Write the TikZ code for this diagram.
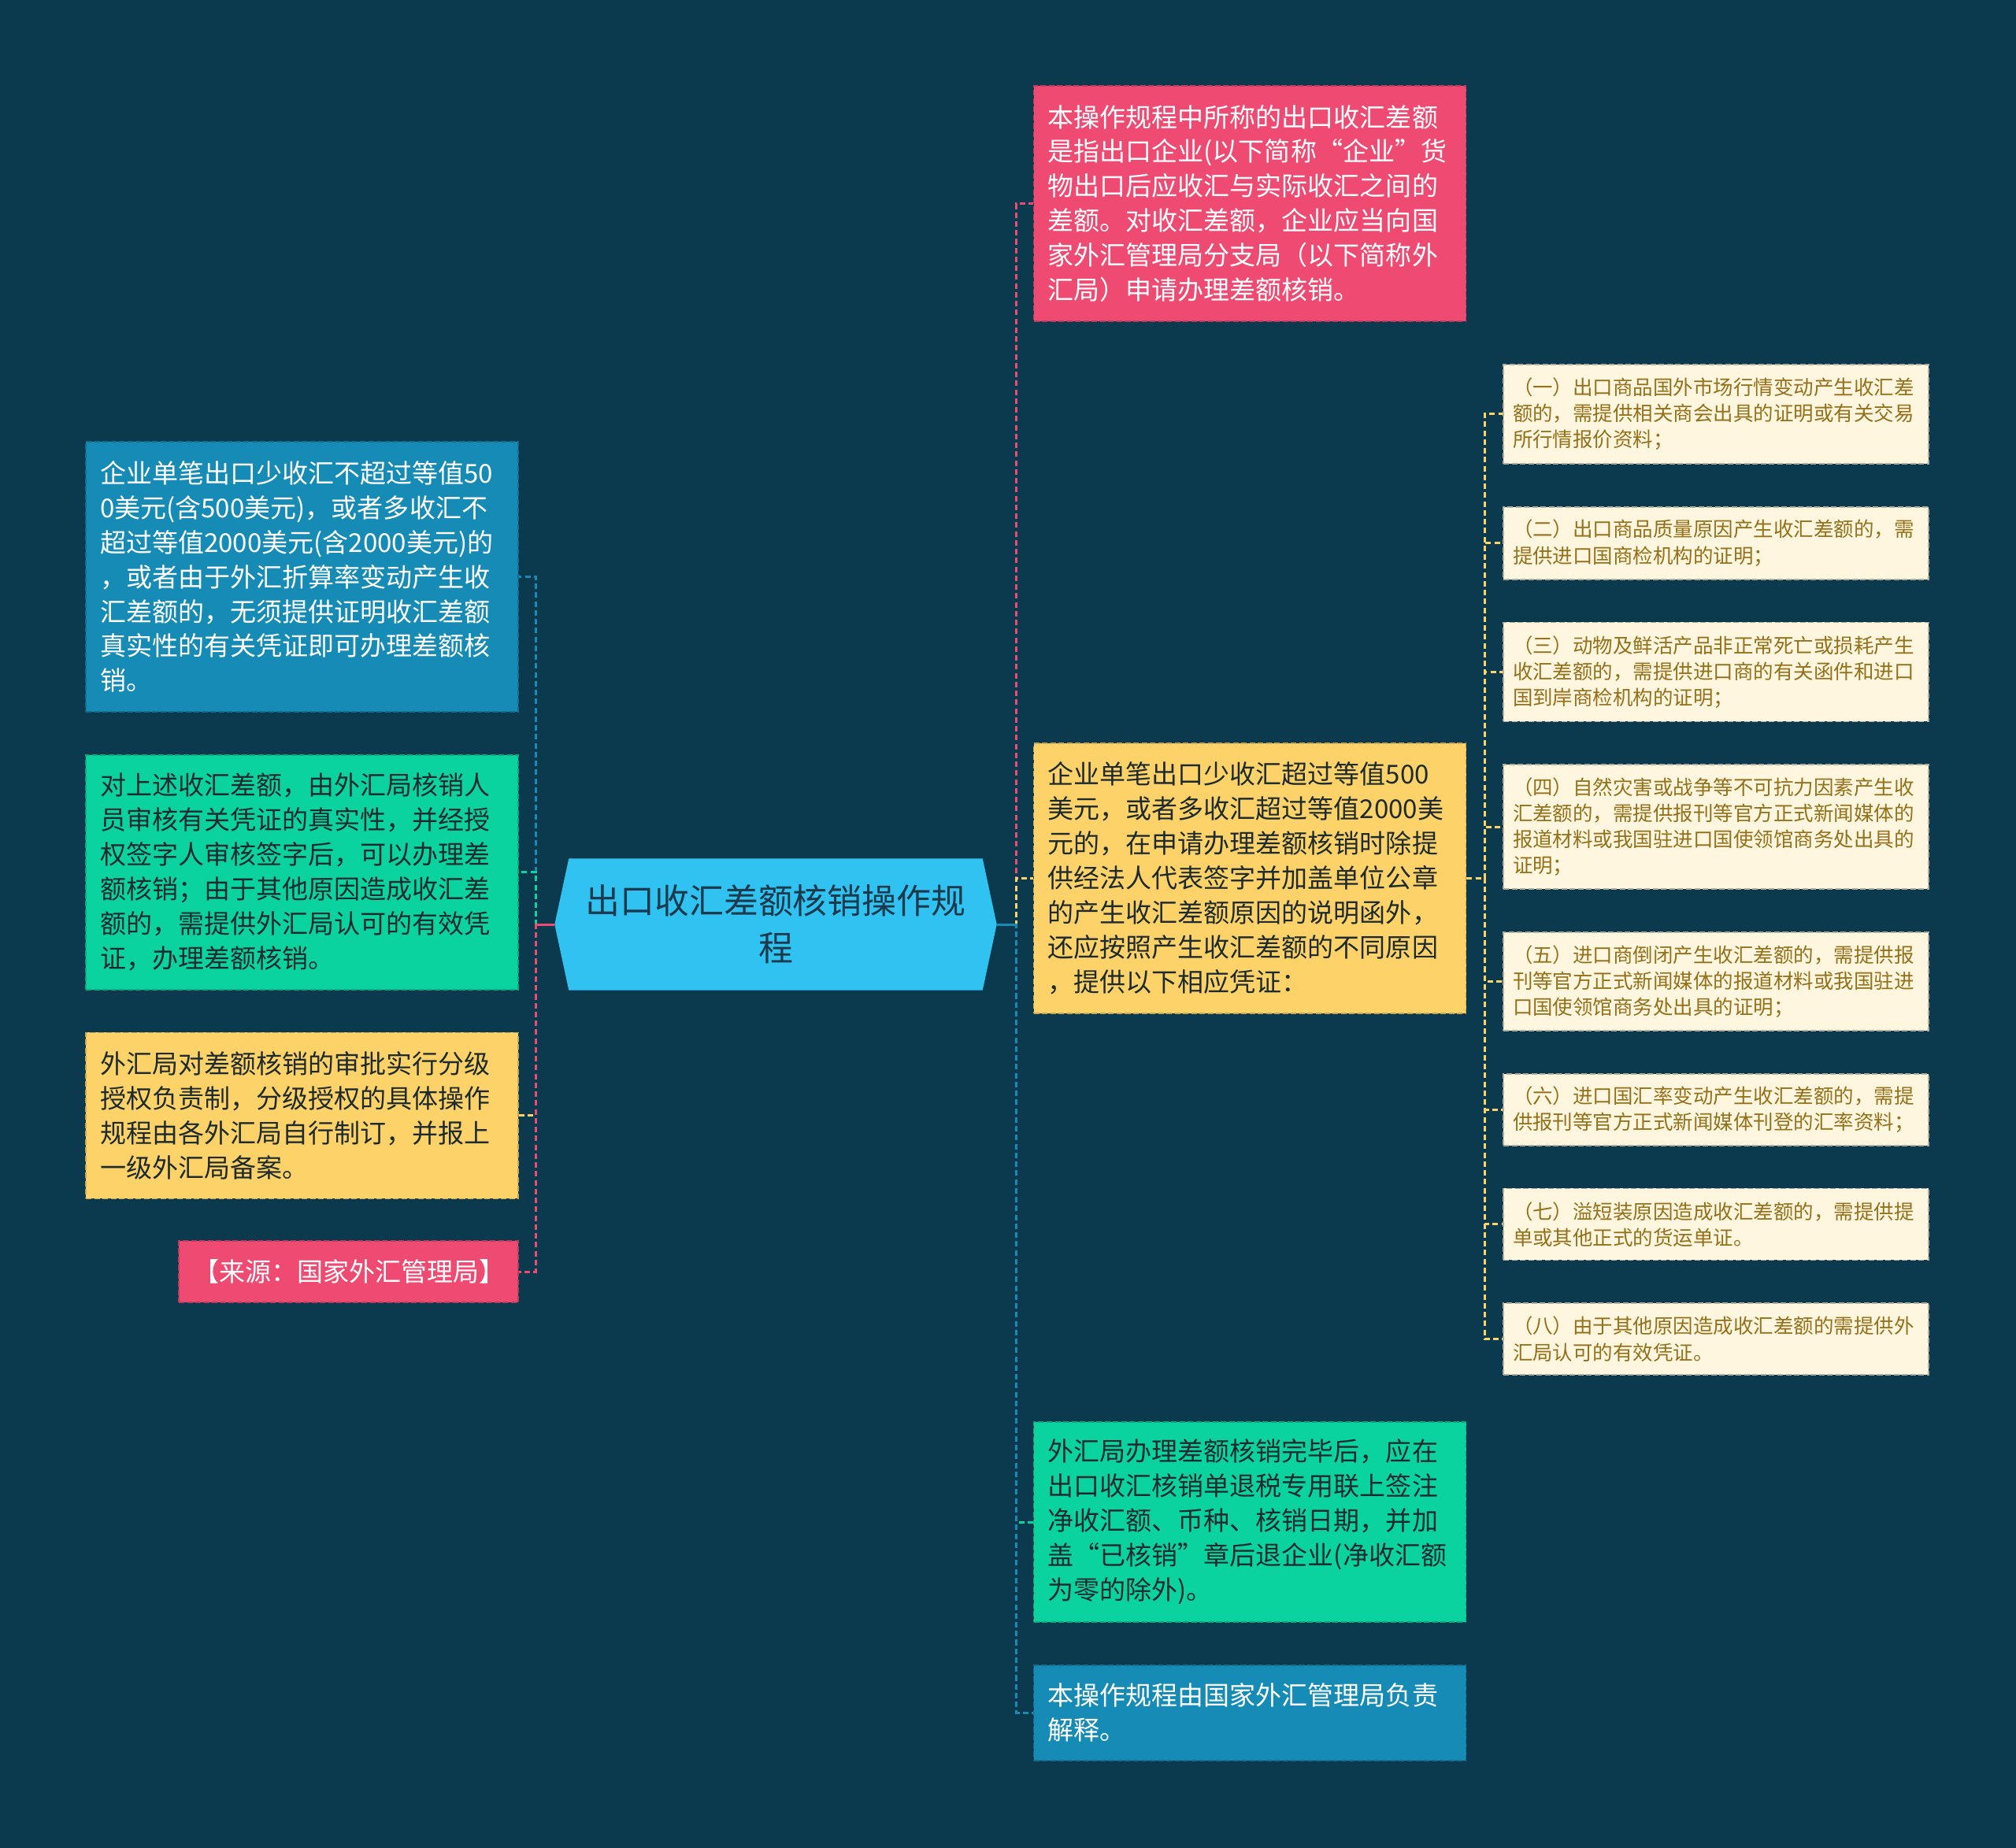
\documentclass[tikz,border=0pt]{standalone}
\usepackage{fontspec}
\setmainfont{Noto Sans CJK SC}
\usetikzlibrary{positioning, calc, backgrounds}
\definecolor{NightTeal}{HTML}{0B3A4E}
\definecolor{HubCyan}{HTML}{30C3F2}
\definecolor{HubInk}{HTML}{1C3A4B}
\definecolor{RosePink}{HTML}{EF4A72}
\definecolor{OceanBlue}{HTML}{168BB5}
\definecolor{MintGreen}{HTML}{0BD3A0}
\definecolor{SunYellow}{HTML}{FDD268}
\definecolor{CreamFill}{HTML}{FEF6DF}
\definecolor{CreamInk}{HTML}{94701A}
\definecolor{DarkInk}{HTML}{1E2B2E}
\tikzset{
  hubtext/.style={align=center, minimum width=5.6cm, minimum height=1.66cm, inner sep=0pt, text=HubInk, font=\fontsize{12.5}{17}\selectfont},
  pinkcard/.style={draw=RosePink!80!black, line width=0.5pt, dash pattern=on 2pt off 1pt, fill=RosePink, text=white, align=left, text width=5.13cm, minimum width=5.49cm, inner xsep=0.18cm, inner ysep=0pt, font=\fontsize{9.4}{12.5}\selectfont},
  bluecard/.style={draw=OceanBlue!80!black, line width=0.5pt, dash pattern=on 2pt off 1pt, fill=OceanBlue, text=white, align=left, text width=5.13cm, minimum width=5.49cm, inner xsep=0.18cm, inner ysep=0pt, font=\fontsize{9.4}{12.5}\selectfont},
  greencard/.style={draw=MintGreen!80!black, line width=0.5pt, dash pattern=on 2pt off 1pt, fill=MintGreen, text=DarkInk, align=left, text width=5.13cm, minimum width=5.49cm, inner xsep=0.18cm, inner ysep=0pt, font=\fontsize{9.4}{12.5}\selectfont},
  yellowcard/.style={draw=SunYellow!80!black, line width=0.5pt, dash pattern=on 2pt off 1pt, fill=SunYellow, text=DarkInk, align=left, text width=5.13cm, minimum width=5.49cm, inner xsep=0.18cm, inner ysep=0pt, font=\fontsize{9.4}{12.5}\selectfont},
  creamcard/.style={draw=CreamFill!70!black, line width=0.5pt, dash pattern=on 2pt off 1pt, fill=CreamFill, text=CreamInk, align=left, text width=5.16cm, minimum width=5.40cm, inner xsep=0.12cm, inner ysep=0pt, font=\fontsize{7.25}{9.45}\selectfont},
  pinklink/.style={draw=RosePink, line width=0.85pt, dash pattern=on 2pt off 1.2pt},
  bluelink/.style={draw=OceanBlue, line width=0.85pt, dash pattern=on 2pt off 1.2pt},
  greenlink/.style={draw=MintGreen, line width=0.85pt, dash pattern=on 2pt off 1.2pt},
  yellowlink/.style={draw=SunYellow, line width=0.85pt, dash pattern=on 2pt off 1.2pt},
  pinkstub/.style={draw=RosePink, line width=0.85pt},
  bluestub/.style={draw=OceanBlue, line width=0.85pt}
}
\begin{document}
\begin{tikzpicture}[node distance=0.53cm]
\useasboundingbox (0,0) rectangle (25.6,-23.47);
\begin{scope}[on background layer]
\fill[NightTeal] (0,0) rectangle (25.6,-23.47);
\end{scope}

\node[hubtext] (hub) at (9.85,-11.74) {出口收汇差额核销操作规\\程};
\begin{scope}[on background layer]
\fill[HubCyan] (hub.west) -- ($(hub.north west)+(0.18,0)$) -- ($(hub.north east)+(-0.18,0)$) -- (hub.east) -- ($(hub.south east)+(-0.18,0)$) -- ($(hub.south west)+(0.18,0)$) -- cycle;
\end{scope}

\node[bluecard, minimum height=3.43cm, anchor=north] (rule500) at (3.835,-5.60) {企业单笔出口少收汇不超过等值50\\0美元(含500美元)，或者多收汇不\\超过等值2000美元(含2000美元)的\\，或者由于外汇折算率变动产生收\\汇差额的，无须提供证明收汇差额\\真实性的有关凭证即可办理差额核\\销。};
\node[greencard, minimum height=2.98cm, below=of rule500] (review) {对上述收汇差额，由外汇局核销人\\员审核有关凭证的真实性，并经授\\权签字人审核签字后，可以办理差\\额核销；由于其他原因造成收汇差\\额的，需提供外汇局认可的有效凭\\证，办理差额核销。};
\node[yellowcard, minimum height=2.11cm, below=of review] (levels) {外汇局对差额核销的审批实行分级\\授权负责制，分级授权的具体操作\\规程由各外汇局自行制订，并报上\\一级外汇局备案。};
\node[pinkcard, minimum height=0.78cm, minimum width=4.31cm, text width=3.95cm, below left=0.52cm and 0cm of levels.south east] (source) {【来源：国家外汇管理局】};

\node[pinkcard, minimum height=2.99cm] (scope) at (15.87,-2.585) {本操作规程中所称的出口收汇差额\\是指出口企业(以下简称“企业”货\\物出口后应收汇与实际收汇之间的\\差额。对收汇差额，企业应当向国\\家外汇管理局分支局（以下简称外\\汇局）申请办理差额核销。};
\node[yellowcard, minimum height=3.43cm] (over500) at (15.87,-11.155) {企业单笔出口少收汇超过等值500\\美元，或者多收汇超过等值2000美\\元的，在申请办理差额核销时除提\\供经法人代表签字并加盖单位公章\\的产生收汇差额原因的说明函外，\\还应按照产生收汇差额的不同原因\\，提供以下相应凭证：};
\node[greencard, minimum height=2.54cm] (signoff) at (15.87,-19.33) {外汇局办理差额核销完毕后，应在\\出口收汇核销单退税专用联上签注\\净收汇额、币种、核销日期，并加\\盖“已核销”章后退企业(净收汇额\\为零的除外)。};
\node[bluecard, minimum height=1.21cm, below=of signoff] (interpret) {本操作规程由国家外汇管理局负责\\解释。};

\node[creamcard, minimum height=1.26cm, anchor=north] (doc1) at (21.79,-4.62) {（一）出口商品国外市场行情变动产生收汇差\\额的，需提供相关商会出具的证明或有关交易\\所行情报价资料；};
\node[creamcard, minimum height=0.92cm, below=of doc1] (doc2) {（二）出口商品质量原因产生收汇差额的，需\\提供进口国商检机构的证明；};
\node[creamcard, minimum height=1.26cm, below=of doc2] (doc3) {（三）动物及鲜活产品非正常死亡或损耗产生\\收汇差额的，需提供进口商的有关函件和进口\\国到岸商检机构的证明；};
\node[creamcard, minimum height=1.58cm, below=of doc3] (doc4) {（四）自然灾害或战争等不可抗力因素产生收\\汇差额的，需提供报刊等官方正式新闻媒体的\\报道材料或我国驻进口国使领馆商务处出具的\\证明；};
\node[creamcard, minimum height=1.25cm, below=of doc4] (doc5) {（五）进口商倒闭产生收汇差额的，需提供报\\刊等官方正式新闻媒体的报道材料或我国驻进\\口国使领馆商务处出具的证明；};
\node[creamcard, minimum height=0.91cm, below=of doc5] (doc6) {（六）进口国汇率变动产生收汇差额的，需提\\供报刊等官方正式新闻媒体刊登的汇率资料；};
\node[creamcard, minimum height=0.91cm, below=of doc6] (doc7) {（七）溢短装原因造成收汇差额的，需提供提\\单或其他正式的货运单证。};
\node[creamcard, minimum height=0.91cm, below=of doc7] (doc8) {（八）由于其他原因造成收汇差额的需提供外\\汇局认可的有效凭证。};

\coordinate (ltrunk) at ($(hub.west)+(-0.24,0)$);
\coordinate (rtrunk) at ($(hub.east)+(0.25,0)$);
\coordinate (strunk) at ($(over500.east)+(0.23,0)$);

\draw[bluelink] (hub.west) -- (ltrunk) |- (rule500.east);
\draw[greenlink] (hub.west) -- (ltrunk) |- (review.east);
\draw[yellowlink] (hub.west) -- (ltrunk) |- (levels.east);
\draw[pinklink] (hub.west) -- (ltrunk) |- (source.east);
\draw[pinkstub] (hub.west) -- (ltrunk);

\draw[pinklink] (hub.east) -- (rtrunk) |- (scope.west);
\draw[yellowlink] (hub.east) -- (rtrunk) |- (over500.west);
\draw[greenlink] (hub.east) -- (rtrunk) |- (signoff.west);
\draw[bluelink] (hub.east) -- (rtrunk) |- (interpret.west);
\draw[bluestub] (hub.east) -- (rtrunk);

\foreach \d in {doc1,doc2,doc3,doc4,doc5,doc6,doc7,doc8}
  \draw[yellowlink] (over500.east) -- (strunk) |- (\d.west);
\end{tikzpicture}
\end{document}
